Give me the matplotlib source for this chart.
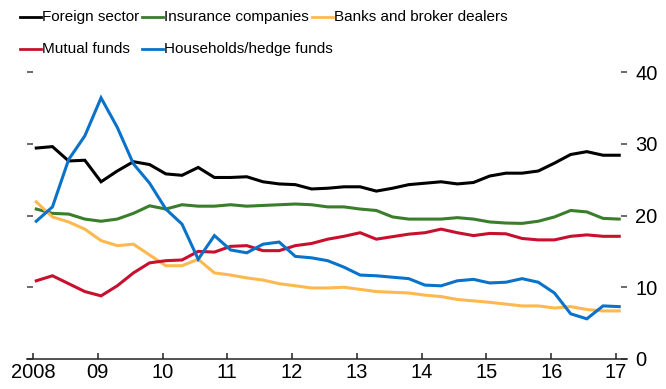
"""
Holders of US Treasury securities, share of total (percent), quarterly 2008-2017.
"""

import numpy as np
import matplotlib
matplotlib.use("Agg")
import matplotlib.pyplot as plt
from matplotlib.lines import Line2D

# -----------------------------------------------------------------------------
# data (percent of total, quarterly from 2008:Q1 to 2017:Q1)

foreign_sector = [29.4, 29.6, 27.6, 27.7, 24.7, 26.2, 27.5, 27.1, 25.8, 25.6,
                  26.7, 25.3, 25.3, 25.4, 24.7, 24.4, 24.3, 23.7, 23.8, 24.0,
                  24.0, 23.4, 23.8, 24.3, 24.5, 24.7, 24.4, 24.6, 25.5, 25.9,
                  25.9, 26.2, 27.3, 28.5, 28.9, 28.4, 28.4]
insurance = [20.9, 20.3, 20.2, 19.5, 19.2, 19.5, 20.3, 21.35, 20.9, 21.5,
             21.3, 21.3, 21.5, 21.3, 21.4, 21.5, 21.6, 21.5, 21.2, 21.2,
             20.9, 20.7, 19.8, 19.5, 19.5, 19.5, 19.7, 19.5, 19.1, 18.95,
             18.9, 19.2, 19.8, 20.7, 20.5, 19.6, 19.5]
banks_brokers = [21.9, 19.8, 19.1, 18.1, 16.5, 15.8, 16.0, 14.5, 13.0, 13.0,
                 13.9, 12.0, 11.7, 11.3, 11.0, 10.5, 10.2, 9.9, 9.9, 10.0,
                 9.7, 9.4, 9.3, 9.2, 8.9, 8.7, 8.3, 8.1, 7.9, 7.65,
                 7.4, 7.4, 7.1, 7.3, 6.9, 6.7, 6.7]
mutual_funds = [10.9, 11.6, 10.5, 9.4, 8.8, 10.2, 12.0, 13.4, 13.7, 13.8,
                15.0, 14.9, 15.7, 15.8, 15.1, 15.1, 15.8, 16.1, 16.7, 17.1,
                17.6, 16.7, 17.05, 17.4, 17.6, 18.1, 17.6, 17.2, 17.5, 17.45,
                16.8, 16.6, 16.6, 17.1, 17.3, 17.1, 17.1]
households_hedge = [19.2, 21.2, 27.8, 31.1, 36.4, 32.3, 27.2, 24.5, 20.9, 18.8,
                    13.9, 17.2, 15.2, 14.8, 16.0, 16.3, 14.3, 14.1, 13.7, 12.8,
                    11.7, 11.6, 11.4, 11.2, 10.3, 10.2, 10.9, 11.1, 10.6, 10.7,
                    11.2, 10.7, 9.2, 6.3, 5.6, 7.4, 7.3]

year_ticks = list(range(2008, 2018))
year_labels = ["2008", "09", "10", "11", "12", "13", "14", "15", "16", "17"]
y_ticks = [0, 10, 20, 30, 40]

labels = ["Foreign sector", "Insurance companies", "Banks and broker dealers",
          "Mutual funds", "Households/hedge funds"]
colors = ["#000000", "#3a7d2b", "#fdb94f", "#c8102e", "#0a73c9"]

# -----------------------------------------------------------------------------

plt.rcParams["font.family"] = ["Liberation Sans", "DejaVu Sans"]

W, H = 666, 389
fig = plt.figure(figsize=(W / 100, H / 100), dpi=100)
ax = fig.add_axes([27 / W, 30 / H, 600 / W, 287 / H])

# quarter positions on a year axis
quarters = 2008.05 + np.arange(len(foreign_sector)) * 0.25
series = [foreign_sector, insurance, banks_brokers, mutual_funds,
          households_hedge]
for values, color in zip(series, colors):
    ax.plot(quarters, values, color=color, lw=2.2, solid_joinstyle="miter")

ax.set_xlim(2007.907, 2017.17)
ax.set_ylim(0, 40)

for side in ["top", "left", "right"]:
    ax.spines[side].set_visible(False)
ax.spines["bottom"].set_color("#222222")
ax.spines["bottom"].set_linewidth(1.1)

ax.set_xticks(year_ticks)
ax.set_xticklabels(year_labels)
ax.tick_params(axis="x", direction="in", length=4.5, width=1.1,
               color="#222222", labelsize=14.5, pad=3)

ax.set_yticks(y_ticks)
ax.tick_params(axis="y", direction="in", length=4.5, width=1.1,
               color="#444444", labelsize=14.5, pad=6,
               left=True, right=True, labelleft=False, labelright=True)


# legend drawn by hand: two rows, entries placed in pixel positions
def px(x, y):
    return x / W, 1 - y / H


legend_slots = [(20, 17), (142, 17), (312, 17), (20, 49), (142, 49)]
for (x0, y0), label, color in zip(legend_slots, labels, colors):
    xa, ya = px(x0, y0)
    xb, _ = px(x0 + 21, y0)
    fig.lines.append(Line2D([xa, xb], [ya, ya], color=color, lw=2,
                            transform=fig.transFigure))
    xt, yt = px(x0 + 22.5, y0)
    fig.text(xt, yt, label, fontsize=11, va="center", ha="left")

fig.savefig("out.png", dpi=100)
